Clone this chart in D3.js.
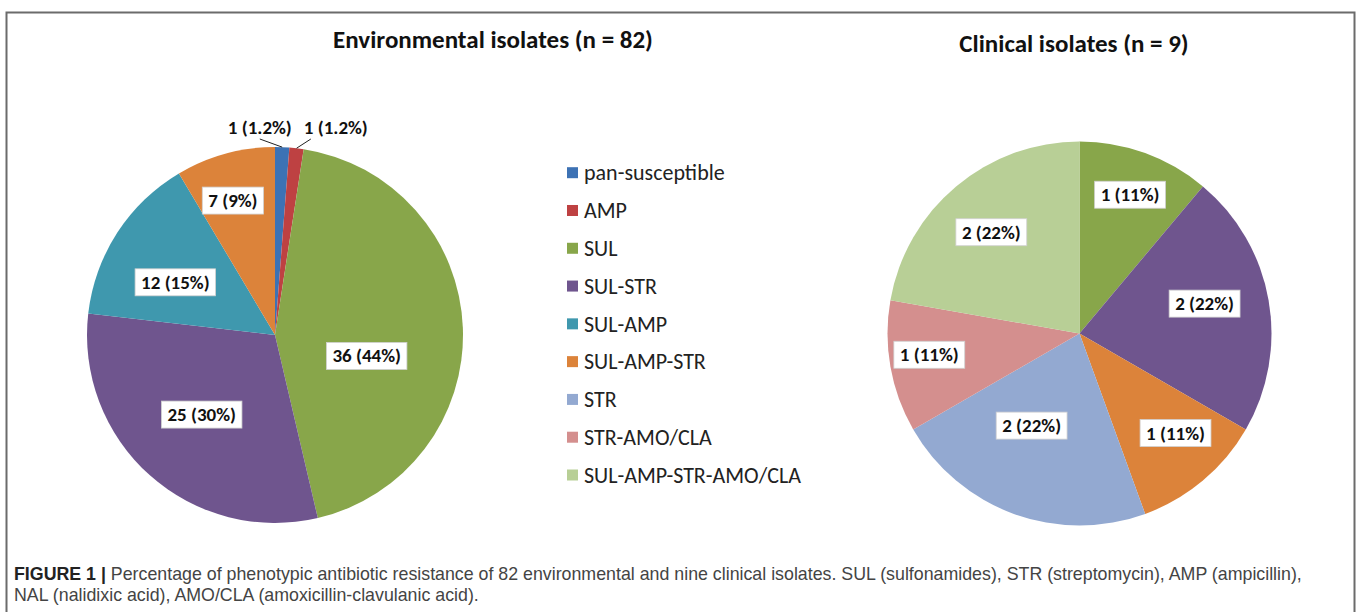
<!DOCTYPE html>
<html>
<head>
<meta charset="utf-8">
<script src="https://cdn.jsdelivr.net/npm/d3@7"></script>
<style>
  html, body { margin: 0; padding: 0; background: #fff; }
  svg { display: block; }
</style>
</head>
<body>
<div id="chart"></div>
<script>
// legend order / colours shared by both pies
const categories = ["pan-susceptible", "AMP", "SUL", "SUL-STR", "SUL-AMP", "SUL-AMP-STR", "STR", "STR-AMO/CLA", "SUL-AMP-STR-AMO/CLA"];
const categoryColors = ["#3d72b4", "#be4142", "#88a64a", "#6f558e", "#3f98ae", "#dc833a", "#93a9d1", "#d48f8e", "#b8cf96"];

// Environmental isolates (n = 82)
const envCategories = ["pan-susceptible", "AMP", "SUL", "SUL-STR", "SUL-AMP", "SUL-AMP-STR"];
const envCounts = [1, 1, 36, 25, 12, 7];
const envPercents = ["1.2%", "1.2%", "44%", "30%", "15%", "9%"];

// Clinical isolates (n = 9)
const clinCategories = ["SUL", "SUL-STR", "SUL-AMP-STR", "STR", "STR-AMO/CLA", "SUL-AMP-STR-AMO/CLA"];
const clinCounts = [1, 2, 1, 2, 1, 2];
const clinPercents = ["11%", "22%", "11%", "22%", "11%", "22%"];

// "best fit" label placement like Excel: radius fraction and angle nudge (deg) per slice
const envLabelFit = [[1.1, 0], [1.1, 0], [0.5, 15], [0.575, 1], [0.6, -5], [0.75, -2]];
const clinLabelFit = [[0.77, 0], [0.67, -3.5], [0.72, -4], [0.54, 7.5], [0.79, 2], [0.7, -1]];

const captionBold = "FIGURE 1 |";
const captionLine1 = " Percentage of phenotypic antibiotic resistance of 82 environmental and nine clinical isolates. SUL (sulfonamides), STR (streptomycin), AMP (ampicillin),";
const captionLine2 = "NAL (nalidixic acid), AMO/CLA (amoxicillin-clavulanic acid).";

const W = 1358, H = 612;
const labelFont = "Carlito, Calibri, Lato, sans-serif";

const svg = d3.select("#chart").append("svg")
    .attr("width", W)
    .attr("height", H)
    .style("background", "#fff");

// outer frame (runs off the bottom like the original figure)
svg.append("rect")
    .attr("x", 6.5).attr("y", 12.5)
    .attr("width", 1348).attr("height", 640)
    .attr("fill", "none")
    .attr("stroke", "#6b6b6b")
    .attr("stroke-width", 2);

const color = d3.scaleOrdinal().domain(categories).range(categoryColors);

function drawPie(opts) {
    const { cx, cy, r, cats, counts, pcts, fit, title, titleX, titleY, titleSize } = opts;
    const rows = cats.map((c, i) => ({ cat: c, n: counts[i], label: `${counts[i]} (${pcts[i]})`, fit: fit[i] }));
    const total = d3.sum(counts);

    const pie = d3.pie().sort(null).value(d => d.n);
    const arc = d3.arc().innerRadius(0).outerRadius(r);
    const outerArc = d3.arc().innerRadius(r * 1.1).outerRadius(r * 1.1);
    const edgeArc = d3.arc().innerRadius(r).outerRadius(r);

    svg.append("text")
        .attr("x", titleX)
        .attr("y", titleY)
        .attr("text-anchor", "middle")
        .attr("font-family", labelFont)
        .attr("font-weight", "bold")
        .attr("font-size", titleSize)
        .attr("fill", "#111")
        .text(title);

    const g = svg.append("g").attr("transform", `translate(${cx},${cy})`);
    const arcs = pie(rows);

    g.selectAll("path.slice")
        .data(arcs)
        .join("path")
        .attr("class", "slice")
        .attr("d", arc)
        .attr("fill", d => color(d.data.cat));

    // small slices get their label outside with a leader line
    const small = arcs.filter(d => d.data.n / total < 0.03);
    const inside = arcs.filter(d => d.data.n / total >= 0.03);

    function addLabel(x, y, txt) {
        const lg = g.append("g").attr("transform", `translate(${x},${y})`);
        const t = lg.append("text")
            .attr("text-anchor", "middle")
            .attr("dy", "0.35em")
            .attr("font-family", labelFont)
            .attr("font-weight", "bold")
            .attr("font-size", 19)
            .attr("fill", "#111")
            .text(txt);
        const bb = t.node().getBBox();
        lg.insert("rect", "text")
            .attr("x", bb.x - 6)
            .attr("y", bb.y - 2)
            .attr("width", bb.width + 12)
            .attr("height", bb.height + 4)
            .attr("fill", "#fff")
            .attr("stroke", "#d0d0d0")
            .attr("stroke-width", 0.8);
    }

    inside.forEach(d => {
        const [frac, nudge] = d.data.fit;
        const a = (d.startAngle + d.endAngle) / 2 + nudge * Math.PI / 180;
        addLabel(Math.sin(a) * r * frac, -Math.cos(a) * r * frac, d.data.label);
    });

    // outside labels: start on the outer arc then push apart horizontally
    const outs = small.map(d => {
        const [x, y] = outerArc.centroid(d);
        const [ex, ey] = edgeArc.centroid(d);
        return { d, x, y, ex, ey, w: 64 };
    }).sort((a, b) => a.x - b.x);
    const gap = 12;
    for (let k = 1; k < outs.length; k++) {
        const need = (outs[k - 1].w + outs[k].w) / 2 + gap;
        const cur = outs[k].x - outs[k - 1].x;
        if (cur < need) {
            const shift = (need - cur) / 2;
            outs[k - 1].x -= shift;
            outs[k].x += shift;
        }
    }
    const topY = d3.min(outs, o => o.y);
    outs.forEach(o => {
        const tg = g.append("text")
            .attr("x", o.x + 7)
            .attr("y", topY - 1)
            .attr("text-anchor", "middle")
            .attr("dy", "0.35em")
            .attr("font-family", labelFont)
            .attr("font-weight", "bold")
            .attr("font-size", 19)
            .attr("fill", "#111")
            .text(o.d.data.label);
        const bb = tg.node().getBBox();
        const inSpan = o.ex >= bb.x && o.ex <= bb.x + bb.width;
        const sx = inSpan ? bb.x + bb.width / 2 : (o.ex < bb.x ? bb.x + 7 : bb.x + bb.width - 7);
        g.append("line")
            .attr("x1", sx).attr("y1", bb.y + bb.height)
            .attr("x2", o.ex).attr("y2", o.ey)
            .attr("stroke", "#222")
            .attr("stroke-width", 1);
    });
}

drawPie({
    cx: 275, cy: 335, r: 188,
    cats: envCategories, counts: envCounts, pcts: envPercents, fit: envLabelFit,
    title: "Environmental isolates (n = 82)", titleX: 493, titleY: 48, titleSize: 25
});

drawPie({
    cx: 1079.5, cy: 333.5, r: 192,
    cats: clinCategories, counts: clinCounts, pcts: clinPercents, fit: clinLabelFit,
    title: "Clinical isolates (n = 9)", titleX: 1074, titleY: 52, titleSize: 25
});

// legend
const legendY = d3.scalePoint().domain(categories).range([172.7, 475]);
const legend = svg.append("g");
categories.forEach(c => {
    const y = legendY(c);
    legend.append("rect")
        .attr("x", 567).attr("y", y - 5.5)
        .attr("width", 11).attr("height", 11)
        .attr("fill", color(c));
    legend.append("text")
        .attr("x", 584).attr("y", y)
        .attr("dy", "0.35em")
        .attr("font-family", labelFont)
        .attr("font-size", 22)
        .attr("fill", "#222")
        .text(c);
});

// caption
const capFont = "'Liberation Sans', Arial, sans-serif";
const cap = svg.append("text")
    .attr("x", 14).attr("y", 580)
    .attr("font-family", capFont)
    .attr("font-size", 17.8)
    .attr("fill", "#444");
cap.append("tspan").attr("font-weight", "bold").attr("fill", "#222").text(captionBold);
cap.append("tspan").text(captionLine1);
svg.append("text")
    .attr("x", 14).attr("y", 601)
    .attr("font-family", capFont)
    .attr("font-size", 17.8)
    .attr("fill", "#444")
    .text(captionLine2);
</script>
</body>
</html>
